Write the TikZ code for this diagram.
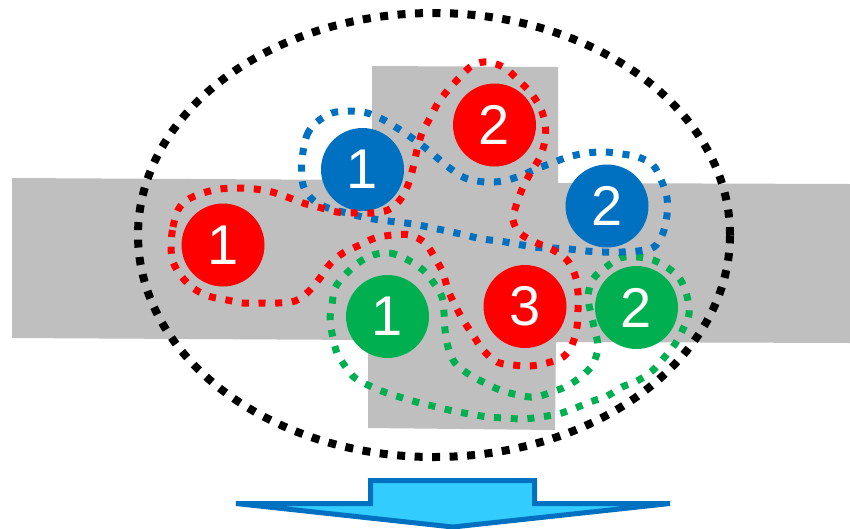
\documentclass[tikz,border=0pt]{standalone}
\usepackage{fontspec}
\setmainfont{Liberation Sans}
\definecolor{cred}{HTML}{FF0000}
\definecolor{cblue}{HTML}{0070C0}
\definecolor{cgreen}{HTML}{00B050}
\definecolor{cgray}{HTML}{BFBFBF}
\definecolor{carrow}{HTML}{33CCFF}
\begin{document}
\begin{tikzpicture}[x=1pt,y=-1pt,
  ball/.style={circle, minimum size=83pt, inner sep=0pt, text=white, font=\fontsize{56}{56}\selectfont},
  redball/.style={ball, fill=cred},
  blueball/.style={ball, fill=cblue},
  greenball/.style={ball, fill=cgreen},
  grp/.style={line width=7pt, dash pattern=on 7pt off 9.7pt, line cap=butt},
  allgrp/.style={line width=8pt, dash pattern=on 8pt off 9.5pt, line cap=butt, black},
  bigarrow/.style={fill=carrow, draw=cblue, line width=5pt, line join=miter}
]
\useasboundingbox (0,0) rectangle (850,528);
% gray cross
\fill[cgray] (12,178) -- (372,180) -- (372,66) -- (558,67) -- (558,183) -- (850,184)
  -- (850,343) -- (556,342) -- (555,430) -- (368,428) -- (368,340) -- (12,338) -- cycle;
% big dotted ellipse
\draw[allgrp] (434,235) ellipse [x radius=296pt, y radius=222pt];
% balls
\node[redball]   (r1) at (223,245)   {1};
\node[redball]   (r2) at (494.5,125) {2};
\node[redball]   (r3) at (525,306.5) {3};
\node[blueball]  (b1) at (362.5,169.5) {1};
\node[blueball]  (b2) at (607,206)   {2};
\node[greenball] (g1) at (387.5,316.5) {1};
\node[greenball] (g2) at (636.5,307.5) {2};
% green group
\draw[grp, cgreen] plot[smooth cycle, tension=0.55] coordinates {
 (373,255) (390,253) (408,260) (423,270) (433,282) (442,297) (444,313) (445,330)
 (448,347) (455,363) (470,375) (485,383) (500,390) (518,395) (535,397) (552,392)
 (567,386) (582,376) (593,364) (598,347) (595,331) (591,314) (588,296) (593,279)
 (605,268) (620,258) (637,257) (653,260) (668,268) (680,279) (687,296) (689,314)
 (683,329) (675,344) (663,359) (652,371) (637,381) (622,387) (607,396) (590,402)
 (573,409) (558,414) (540,417) (523,419) (505,418) (488,417) (470,414) (453,411)
 (437,407) (420,403) (403,398) (387,393) (370,386) (355,378) (345,366) (337,353)
 (333,338) (330,320) (332,305) (335,288) (345,275) (358,263)};
% blue group
\draw[grp, cblue] plot[smooth cycle, tension=0.55] coordinates {
 (302,160) (307,135) (317,122) (332,113) (349,111) (367,113) (382,119) (397,128)
 (412,138) (428,150) (447,166) (465,178) (485,182) (503,181) (520,176) (536,169)
 (552,163) (568,157) (587,153) (605,152) (622,154) (638,157) (653,165) (662,182)
 (667,198) (667,215) (663,233) (654,247) (638,251) (622,252) (603,252) (586,251)
 (569,249) (552,248) (533,247) (517,244) (499,241) (482,239) (465,235) (447,231)
 (428,227) (413,224) (397,222) (380,220) (363,217) (347,213) (328,208) (313,200)
 (303,185)};
% red group
\draw[grp, cred] plot[smooth cycle, tension=0.55] coordinates {
 (171,245) (173,227) (178,210) (187,200) (203,193) (220,189) (237,188) (255,189)
 (272,192) (287,197) (303,203) (318,207) (337,212) (355,213) (372,213) (388,210)
 (400,200) (408,185) (413,168) (417,150) (422,133) (430,118) (438,103) (448,90)
 (460,77) (473,65) (488,62) (505,68) (518,80) (530,92) (540,107) (545,123)
 (545,140) (540,157) (531,172) (523,187) (517,203) (513,220) (521,234) (537,243)
 (553,250) (567,260) (575,275) (578,293) (578,310) (577,327) (572,345) (563,357)
 (547,363) (530,366) (513,365) (497,362) (483,350) (473,335) (463,320) (455,305)
 (448,290) (443,273) (435,258) (425,243) (410,235) (393,235) (375,238) (360,245)
 (343,253) (330,264) (320,278) (308,292) (295,301) (278,303) (260,303) (243,303)
 (227,300) (208,296) (193,288) (182,277) (173,262)};
% arrow
\draw[bigarrow] (370.5,480.5) -- (534.5,480.5) -- (534.5,503.5) -- (670,503.5)
  -- (453,527) -- (236,503.5) -- (370.5,503.5) -- cycle;
\end{tikzpicture}
\end{document}
